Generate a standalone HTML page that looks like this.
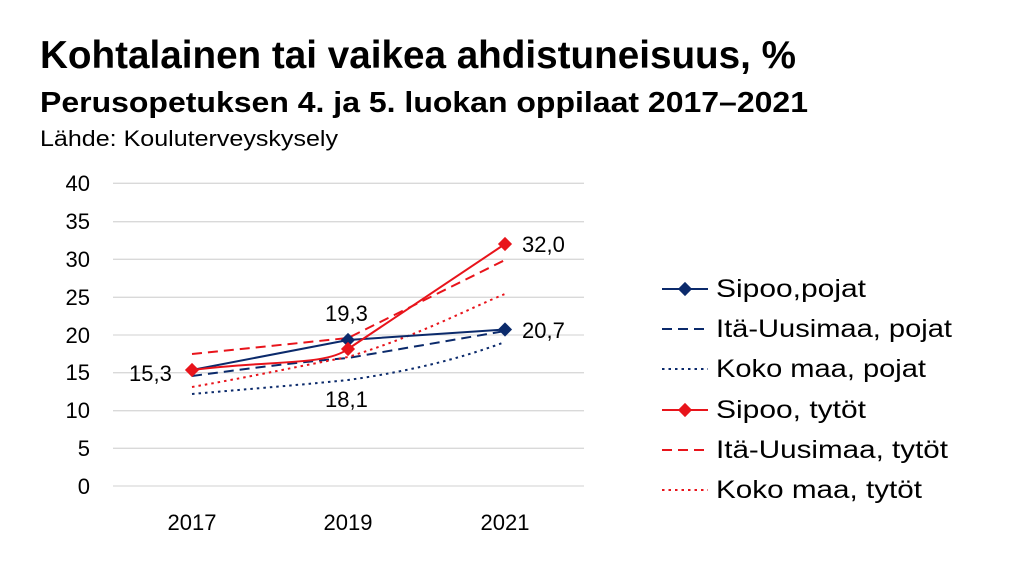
<!DOCTYPE html>
<html><head><meta charset="utf-8"><style>body{margin:0;background:#fff}svg{display:block}</style></head><body>
<svg width="1024" height="572" viewBox="0 0 1024 572" xmlns="http://www.w3.org/2000/svg" font-family="Liberation Sans, sans-serif">
<rect width="1024" height="572" fill="#fff"/>
<text x="40" y="68" font-size="39" font-weight="bold" textLength="756" lengthAdjust="spacingAndGlyphs">Kohtalainen tai vaikea ahdistuneisuus, %</text>
<text x="40" y="112" font-size="29" font-weight="bold" textLength="768" lengthAdjust="spacingAndGlyphs">Perusopetuksen 4. ja 5. luokan oppilaat 2017–2021</text>
<text x="40" y="146" font-size="22" textLength="298" lengthAdjust="spacingAndGlyphs">Lähde: Kouluterveyskysely</text>
<g stroke="#d9d9d9" stroke-width="1.3">
<line x1="113" x2="584" y1="183.3" y2="183.3"/><line x1="113" x2="584" y1="221.7" y2="221.7"/><line x1="113" x2="584" y1="259.3" y2="259.3"/><line x1="113" x2="584" y1="297.3" y2="297.3"/><line x1="113" x2="584" y1="335" y2="335"/><line x1="113" x2="584" y1="372.7" y2="372.7"/><line x1="113" x2="584" y1="410.7" y2="410.7"/><line x1="113" x2="584" y1="448.3" y2="448.3"/><line x1="113" x2="584" y1="486" y2="486"/>
</g>
<g font-size="22" text-anchor="end">
<text x="90" y="191">40</text><text x="90" y="229">35</text><text x="90" y="267">30</text><text x="90" y="305">25</text><text x="90" y="343">20</text><text x="90" y="380">15</text><text x="90" y="418">10</text><text x="90" y="456">5</text><text x="90" y="494">0</text>
</g>
<g font-size="22" text-anchor="middle">
<text x="192" y="530">2017</text><text x="348" y="530">2019</text><text x="505" y="530">2021</text>
</g>
<g fill="none" stroke-width="2">
<path d="M192,394 C260,388 300,385 348,380 C420,370 470,355 505,342" stroke="#0b2a6b" stroke-dasharray="2.5,4"/>
<path d="M192,376 C260,367 300,362 348,358 L505,331" stroke="#0b2a6b" stroke-dasharray="10,6"/>
<path d="M192,387 C260,375 300,366 348,357 C420,335 470,308 505,294" stroke="#e8141b" stroke-dasharray="2.5,4"/>
<path d="M192,354 L348,338 L505,260" stroke="#e8141b" stroke-dasharray="10,6"/>
<path d="M192,370 L348,340 L505,329.5" stroke="#0b2a6b"/>
<path d="M192,370 C270,360 325,366 348,349 L505,244" stroke="#e8141b"/>
</g>
<g>
<rect x="-5" y="-5" width="10" height="10" fill="#0b2a6b" transform="translate(348,340) rotate(45)"/>
<rect x="-5" y="-5" width="10" height="10" fill="#0b2a6b" transform="translate(505,329.5) rotate(45)"/>
<rect x="-5" y="-5" width="10" height="10" fill="#e8141b" transform="translate(192,370) rotate(45)"/>
<rect x="-5" y="-5" width="10" height="10" fill="#e8141b" transform="translate(348,349) rotate(45)"/>
<rect x="-5" y="-5" width="10" height="10" fill="#e8141b" transform="translate(505,244) rotate(45)"/>
</g>
<g font-size="22">
<text x="129" y="381">15,3</text><text x="325" y="321">19,3</text><text x="325" y="407">18,1</text><text x="522" y="252">32,0</text><text x="522" y="338">20,7</text>
</g>
<g fill="none" stroke-width="2">
<line x1="662" x2="708" y1="289" y2="289" stroke="#0b2a6b"/>
<line x1="662" x2="708" y1="329" y2="329" stroke="#0b2a6b" stroke-dasharray="10,6"/>
<line x1="662" x2="708" y1="369" y2="369" stroke="#0b2a6b" stroke-dasharray="2.5,4"/>
<line x1="662" x2="708" y1="410" y2="410" stroke="#e8141b"/>
<line x1="662" x2="708" y1="450" y2="450" stroke="#e8141b" stroke-dasharray="10,6"/>
<line x1="662" x2="708" y1="490" y2="490" stroke="#e8141b" stroke-dasharray="2.5,4"/>
</g>
<rect x="-5" y="-5" width="10" height="10" fill="#0b2a6b" transform="translate(685,289) rotate(45)"/>
<rect x="-5" y="-5" width="10" height="10" fill="#e8141b" transform="translate(685,410) rotate(45)"/>
<g font-size="25">
<text x="716" y="297" textLength="150" lengthAdjust="spacingAndGlyphs">Sipoo,pojat</text>
<text x="716" y="337" textLength="236" lengthAdjust="spacingAndGlyphs">Itä-Uusimaa, pojat</text>
<text x="716" y="377" textLength="210" lengthAdjust="spacingAndGlyphs">Koko maa, pojat</text>
<text x="716" y="418" textLength="150" lengthAdjust="spacingAndGlyphs">Sipoo, tytöt</text>
<text x="716" y="458" textLength="232" lengthAdjust="spacingAndGlyphs">Itä-Uusimaa, tytöt</text>
<text x="716" y="498" textLength="206" lengthAdjust="spacingAndGlyphs">Koko maa, tytöt</text>
</g>
</svg>
</body></html>
